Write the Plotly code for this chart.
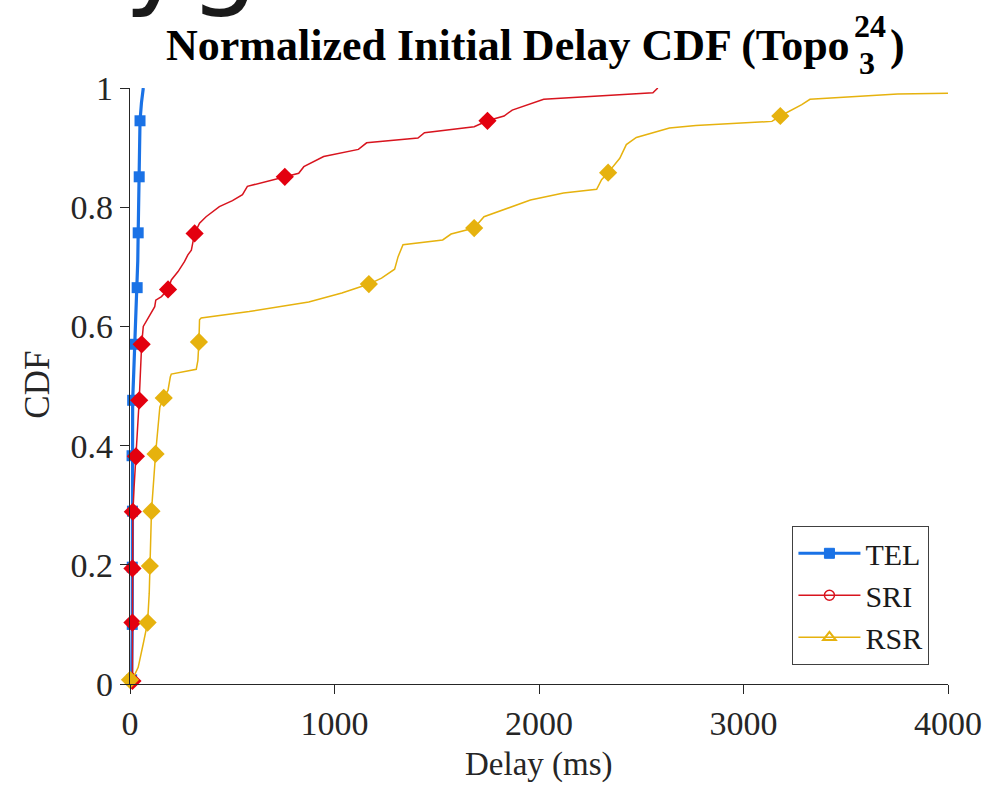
import plotly.graph_objects as go

# ---------------- data ----------------
tel_x = [6, 8, 11, 11, 12, 10, 13, 18, 24, 30, 35, 38, 40, 42, 45, 47, 49, 56, 65]
tel_y = [0.0, 0.007, 0.10, 0.196, 0.29, 0.383, 0.476, 0.52, 0.57, 0.62, 0.665, 0.71, 0.757, 0.80, 0.851, 0.90, 0.945, 0.975, 1.0]
tel_mx = [8, 11, 11, 12, 10, 13, 24, 35, 40, 45, 49]
tel_my = [0.007, 0.10, 0.196, 0.29, 0.383, 0.476, 0.57, 0.665, 0.757, 0.851, 0.945]

sri_x = [10, 12, 12, 12, 14, 20, 29, 45, 57, 65, 97, 121, 126, 154, 186, 202, 235, 267, 283, 300, 316, 340, 372,
         437, 501, 550, 574, 631, 757, 825, 850, 947, 1117, 1157, 1408, 1440, 1683, 1748, 1829, 1869, 2023, 2557, 2581]
sri_y = [0.0, 0.005, 0.103, 0.194, 0.289, 0.33, 0.382, 0.476, 0.57, 0.60, 0.619, 0.633, 0.644, 0.65, 0.662, 0.678,
         0.692, 0.709, 0.72, 0.728, 0.756, 0.773, 0.784, 0.801, 0.811, 0.821, 0.835, 0.84, 0.851, 0.857, 0.868, 0.885,
         0.897, 0.908, 0.916, 0.925, 0.935, 0.945, 0.953, 0.963, 0.981, 0.992, 1.0]
sri_mx = [12, 12, 12, 14, 29, 45, 57, 186, 316, 757, 1748]
sri_my = [0.005, 0.103, 0.194, 0.289, 0.382, 0.476, 0.57, 0.662, 0.756, 0.851, 0.945]

rsr_x = [0, 0, 15, 40, 65, 86, 94, 97, 105, 125, 146, 165, 186, 197, 202, 324, 332, 337, 340, 348, 583, 874, 1036,
         1168, 1230, 1294, 1311, 1335, 1529, 1570, 1683, 1731, 1958, 2120, 2282, 2306, 2338, 2395, 2427, 2476, 2638,
         2767, 3139, 3180, 3285, 3325, 3754, 4000]
rsr_y = [0.0, 0.007, 0.01, 0.028, 0.068, 0.103, 0.152, 0.198, 0.29, 0.386, 0.465, 0.48, 0.493, 0.515, 0.52, 0.528,
         0.543, 0.574, 0.611, 0.614, 0.625, 0.641, 0.656, 0.671, 0.681, 0.696, 0.717, 0.737, 0.745, 0.755, 0.765,
         0.784, 0.812, 0.824, 0.830, 0.846, 0.858, 0.882, 0.905, 0.917, 0.933, 0.937, 0.944, 0.953, 0.972, 0.981,
         0.990, 0.991]
rsr_mx = [0, 86, 97, 105, 125, 165, 337, 1168, 1683, 2338, 3180]
rsr_my = [0.007, 0.103, 0.198, 0.29, 0.386, 0.48, 0.574, 0.671, 0.765, 0.858, 0.953]

series_names = ["TEL", "SRI", "RSR"]
x_ticks = [0, 1000, 2000, 3000, 4000]
y_ticks = [0, 0.2, 0.4, 0.6, 0.8, 1]
y_ticktext = ["0", "0.2", "0.4", "0.6", "0.8", "1"]

# ---------------- style ----------------
BLUE = "#1a72e6"
RED = "#d8141e"
RED_M = "#e3000f"
YEL = "#e6b20e"
FONT = "Liberation Serif"

W, H = 994, 785
L, R, T, B = 130, 40, 88, 101
PW, PH = W - L - R, H - T - B


def px(xp):
    return (xp - L) / PW


def py(yp):
    return (H - B - yp) / PH


fig = go.Figure()

curves = [
    (tel_x, tel_y, tel_mx, tel_my, BLUE, 3.2, BLUE, "square", 11),
    (sri_x, sri_y, sri_mx, sri_my, RED, 1.5, RED_M, "diamond", 14),
    (rsr_x, rsr_y, rsr_mx, rsr_my, YEL, 1.5, YEL, "diamond", 14),
]
for (cx, cy, mx, my, col, lw, mcol, sym, ms) in curves:
    fig.add_trace(go.Scatter(x=cx, y=cy, mode="lines", line=dict(color=col, width=lw),
                             showlegend=False, hoverinfo="skip"))
    fig.add_trace(go.Scatter(x=mx, y=my, mode="markers",
                             marker=dict(color=mcol, symbol=sym, size=ms, line=dict(width=0)),
                             showlegend=False, hoverinfo="skip", cliponaxis=False))

# legend entries
leg_styles = [
    (BLUE, 3, dict(symbol="square", size=10, color=BLUE, line=dict(color=BLUE, width=1))),
    (RED, 1.5, dict(symbol="circle-open", size=10, color=RED, line=dict(color=RED, width=1.5))),
    (YEL, 1.5, dict(symbol="triangle-up-open", size=11, color=YEL, line=dict(color=YEL, width=2))),
]
for name, (col, lw, mk) in zip(series_names, leg_styles):
    fig.add_trace(go.Scatter(x=[None], y=[None], mode="lines+markers", name=name,
                             line=dict(color=col, width=lw), marker=mk))

ax_col = "#262626"
fig.update_layout(
    width=W, height=H,
    margin=dict(l=L, r=R, t=T, b=B),
    paper_bgcolor="white", plot_bgcolor="white",
    font=dict(family=FONT, color="#262626", size=34),
    xaxis=dict(range=[0, 4000], tickvals=x_ticks, ticktext=[str(v) for v in x_ticks],
               showgrid=False, zeroline=False, showline=True, linecolor=ax_col, linewidth=1.3,
               ticks="outside", ticklen=9, tickcolor=ax_col, tickwidth=1.3,
               tickfont=dict(family=FONT, size=34, color="#262626")),
    yaxis=dict(range=[0, 1], tickvals=y_ticks, ticktext=y_ticktext,
               showgrid=False, zeroline=False, showline=True, linecolor=ax_col, linewidth=1.3,
               ticks="outside", ticklen=9, tickcolor=ax_col, tickwidth=1.3,
               tickfont=dict(family=FONT, size=34, color="#262626")),
    legend=dict(x=px(935), y=py(665), xanchor="right", yanchor="bottom",
                bgcolor="white", bordercolor="#404040", borderwidth=1.3,
                font=dict(family=FONT, size=30, color="#1a1a1a"),
                itemwidth=62, tracegroupgap=0),
    showlegend=True,
)

ann = [
    dict(text="yg", x=px(122), y=py(-44), xanchor="left", yanchor="middle",
         font=dict(family="DejaVu Sans", size=110, color="#1a1a1a")),
    dict(text="<b>Normalized Initial Delay CDF (Topo</b>", x=px(857), y=py(45), xanchor="right", yanchor="middle",
         font=dict(family=FONT, size=44, color="black")),
    dict(text="<b>24</b>", x=px(857), y=py(26), xanchor="left", yanchor="middle",
         font=dict(family=FONT, size=32, color="black")),
    dict(text="<b>3</b>", x=px(862), y=py(63), xanchor="left", yanchor="middle",
         font=dict(family=FONT, size=32, color="black")),
    dict(text="<b>)</b>", x=px(894), y=py(45), xanchor="left", yanchor="middle",
         font=dict(family=FONT, size=44, color="black")),
    dict(text="Delay (ms)", x=0.5, y=py(764), xanchor="center", yanchor="middle",
         font=dict(family=FONT, size=33, color="#262626")),
    dict(text="CDF", x=px(36), y=py(385), xanchor="center", yanchor="middle", textangle=-90,
         font=dict(family=FONT, size=35, color="#262626")),
]
for a in ann:
    fig.add_annotation(xref="paper", yref="paper", showarrow=False, **a)

fig.write_html("out.html")
